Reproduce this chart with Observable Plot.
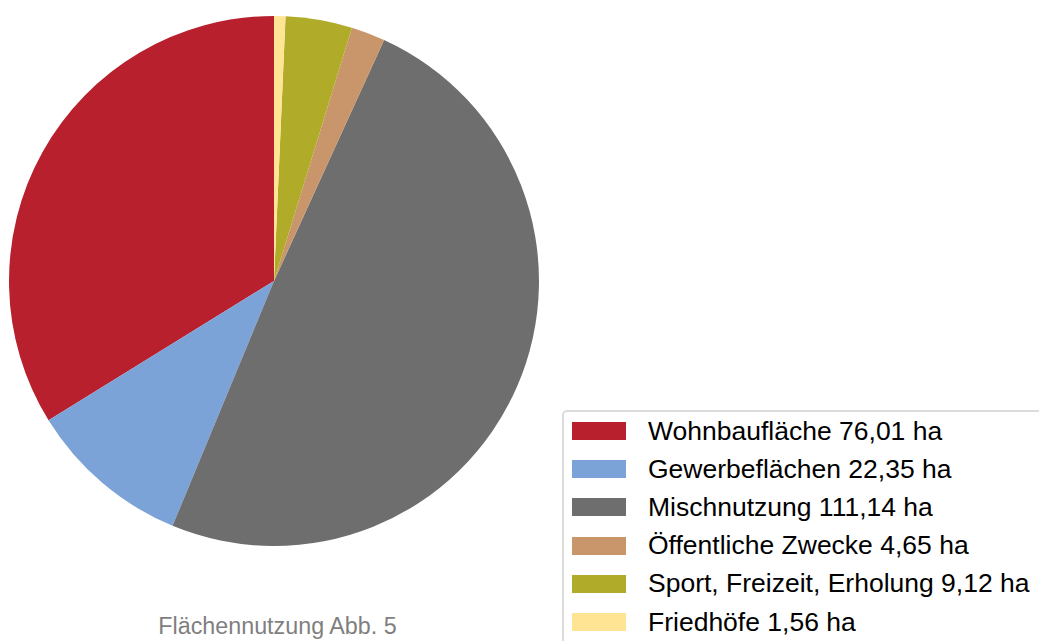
<!DOCTYPE html>
<html>
<head>
<meta charset="utf-8">
<script src="https://cdn.jsdelivr.net/npm/d3@7"></script>
<script src="https://cdn.jsdelivr.net/npm/@observablehq/plot@0.6"></script>
<style>
  html, body { margin: 0; padding: 0; background: #fff; overflow: hidden; }
  #root { position: relative; width: 1039px; height: 641px; overflow: hidden; font-family: "Liberation Sans", Arial, sans-serif; }
  #chart { position: absolute; left: 0; top: 0; }
  #caption { position: absolute; left: 0; top: 615px; width: 555px; text-align: center; font-size: 23.3px; line-height: 23px; color: #7f7f7f; }
  #legendbox { position: absolute; left: 562px; top: 410px; width: 520px; height: 300px; border: 2px solid #dcdcdc; border-radius: 5px; box-sizing: border-box; padding: 0 0 0 8px; background: #fff; }
  #legendbox .lg-swatches { margin: 0 !important; font-family: "Liberation Sans", Arial, sans-serif !important; font-size: 26.5px !important; color: #000 !important; }
  #legendbox .lg-swatch { height: 38.2px !important; padding: 0 !important; margin: 0 !important; display: flex !important; align-items: center !important; }
  #legendbox .lg-swatch > svg { margin-right: 22px !important; }
  #legendbox .lg-swatch-label, #legendbox .lg-swatch span { overflow: visible !important; white-space: nowrap !important; }
</style>
</head>
<body>
<div id="root">
  <div id="chart"></div>
  <div id="caption">Flächennutzung Abb. 5</div>
  <div id="legendbox"></div>
</div>
<script>
const categories = ["Wohnbaufläche", "Gewerbeflächen", "Mischnutzung", "Öffentliche Zwecke", "Sport, Freizeit, Erholung", "Friedhöfe"];
const values = [76.01, 22.35, 111.14, 4.65, 9.12, 1.56];
const colors = ["#b8202e", "#7ba3d8", "#6e6e6e", "#c9956a", "#b0ac2a", "#ffe593"];
const unit = "ha";

const data = categories.map((category, i) => ({category, value: values[i]}));
const labelOf = new Map(data.map(d => [d.category, `${d.category} ${d.value.toFixed(2).replace(".", ",")} ${unit}`]));

// counterclockwise from 12 o'clock, in data order
const arcs = d3.pie().value(d => d.value).sort(null).startAngle(0).endAngle(-2 * Math.PI)(data);

function pieMark(index, scales) {
  const cx = scales.x(0), cy = scales.y(0);
  const r = Math.abs(scales.x(1) - scales.x(0));
  const color = scales.color || d3.scaleOrdinal(categories, colors);
  const g = d3.create("svg:g").attr("transform", `translate(${cx},${cy})`);
  g.selectAll("path")
    .data(arcs)
    .join("path")
    .attr("d", d3.arc().innerRadius(0).outerRadius(r))
    .attr("fill", d => color(d.data.category));
  return g.node();
}

const chart = Plot.plot({
  width: 548,
  height: 562,
  marginLeft: 9,
  marginRight: 9,
  marginTop: 16,
  marginBottom: 16,
  style: {background: "transparent"},
  x: {domain: [-1, 1], axis: null},
  y: {domain: [-1, 1], axis: null},
  color: {domain: categories, range: colors},
  marks: [
    Plot.dot(data, {x: () => 0, y: () => 0, fill: "category", r: 0}),
    pieMark
  ]
});
document.getElementById("chart").appendChild(chart);

const legend = Plot.legend({
  color: {domain: categories, range: colors},
  legend: "swatches",
  columns: 1,
  swatchWidth: 54,
  swatchHeight: 18,
  className: "lg",
  tickFormat: d => labelOf.get(d)
});
document.getElementById("legendbox").appendChild(legend);
</script>
</body>
</html>
